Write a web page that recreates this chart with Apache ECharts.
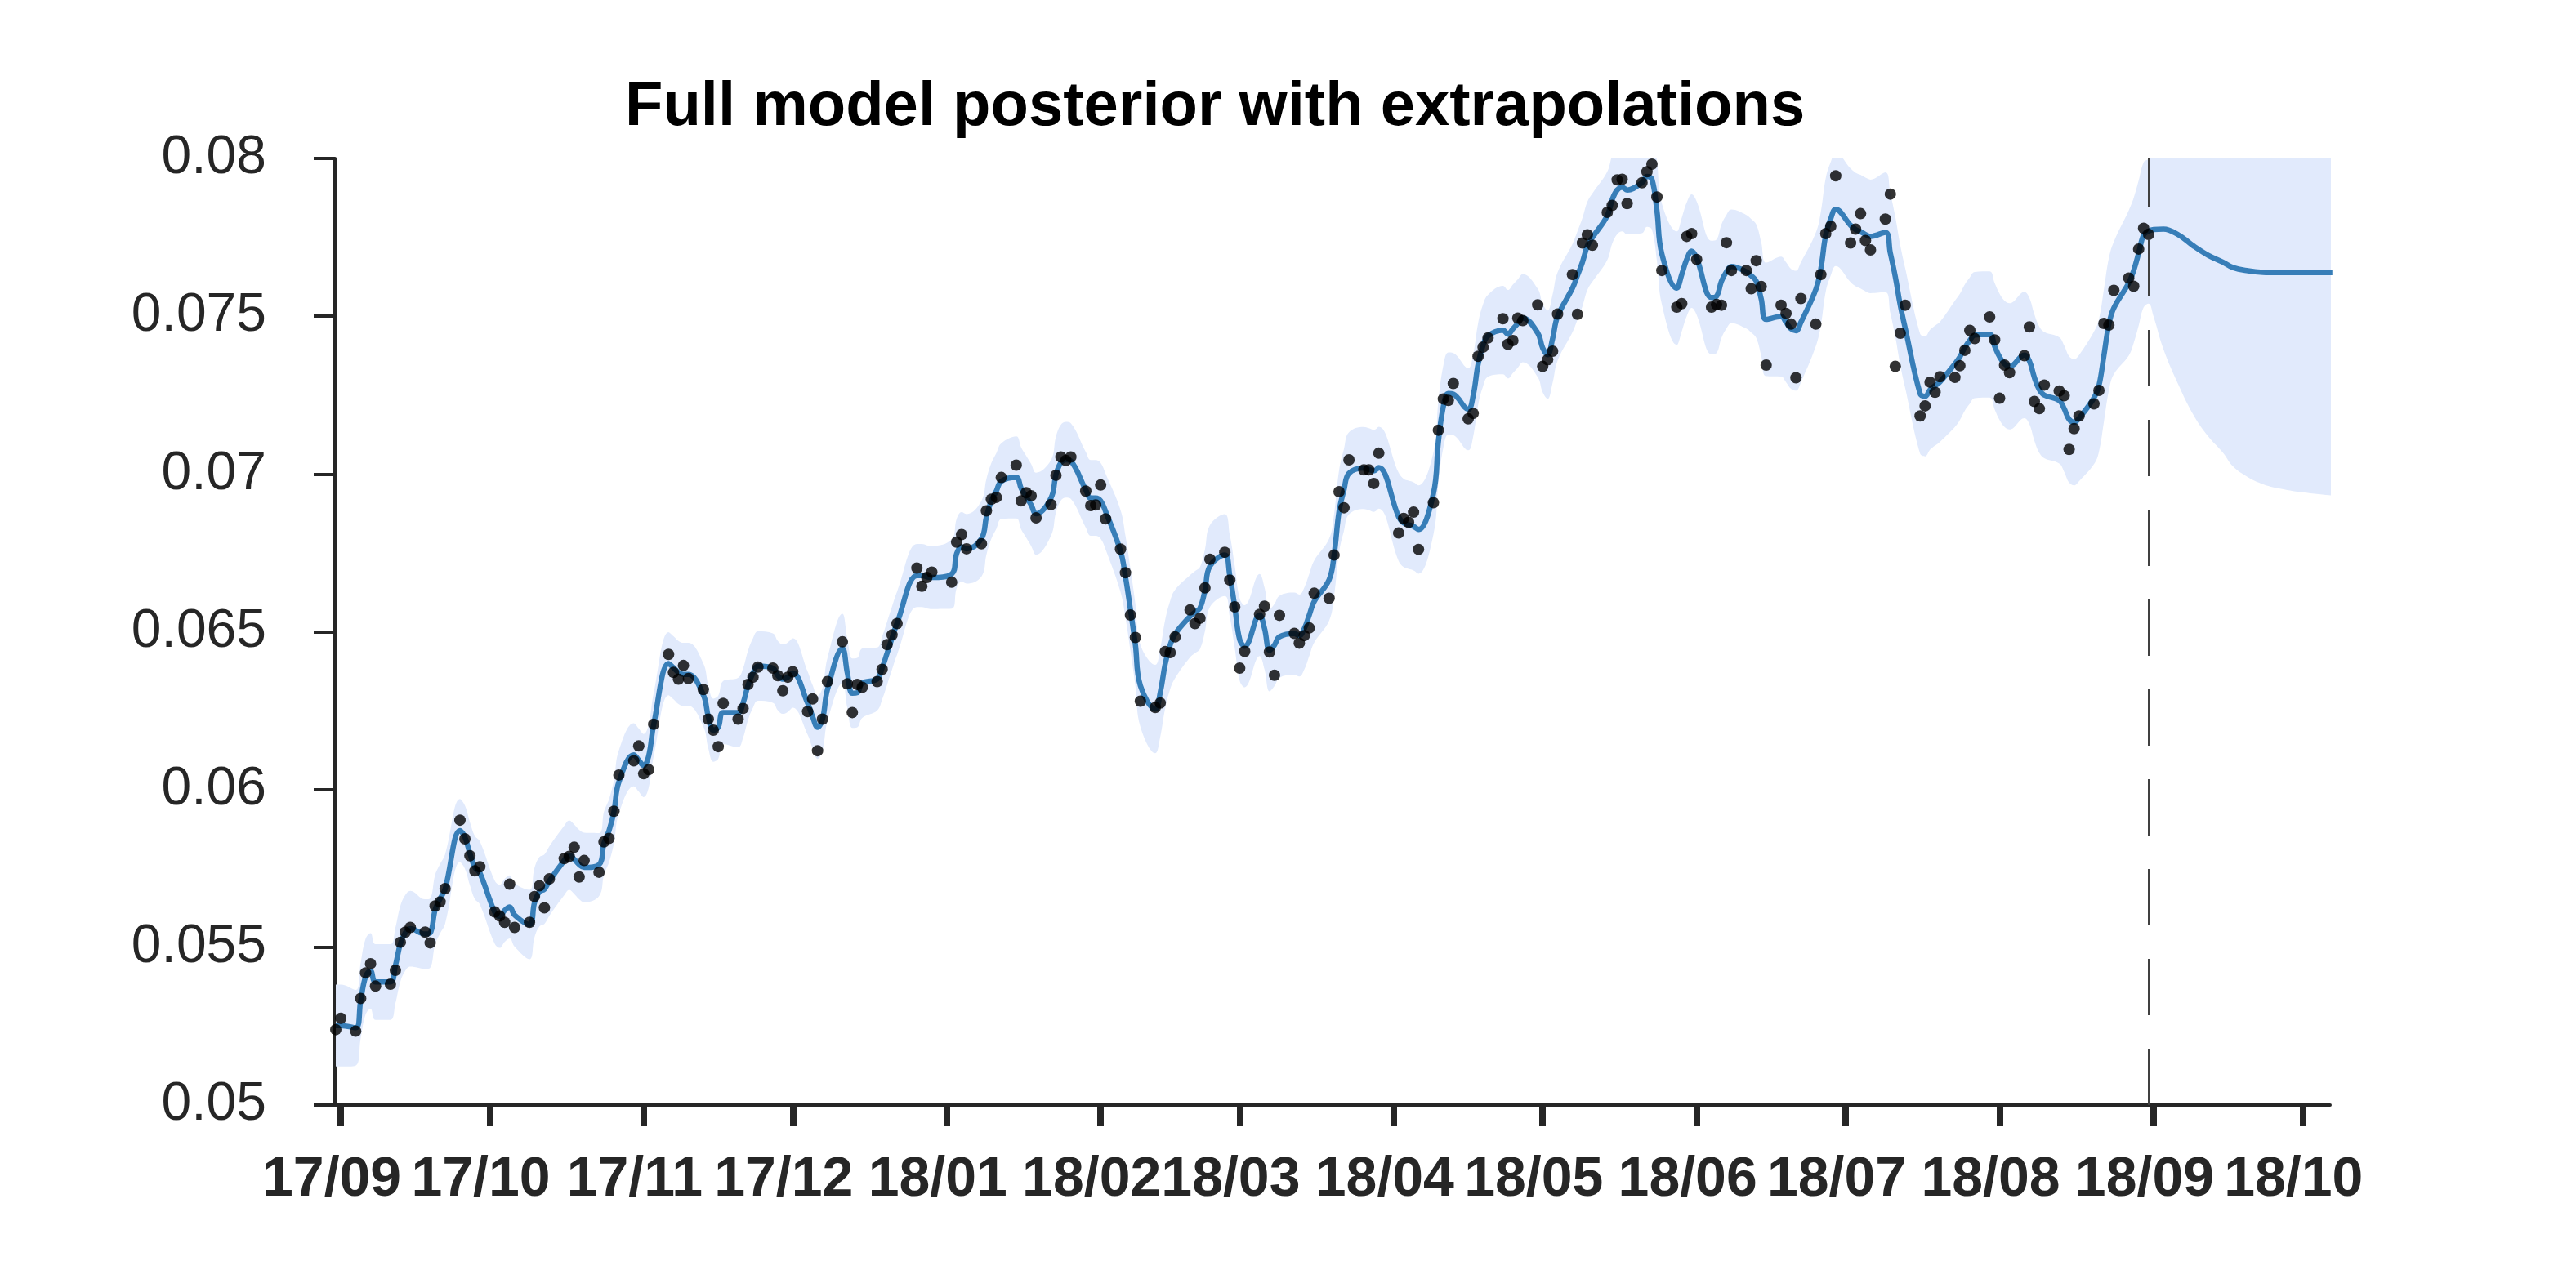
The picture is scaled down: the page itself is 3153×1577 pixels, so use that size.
<!DOCTYPE html>
<html>
<head>
<meta charset="utf-8">
<title>Full model posterior with extrapolations</title>
<script src="https://cdn.jsdelivr.net/npm/echarts@6/dist/echarts.min.js"></script>
<style>
  html, body { margin: 0; padding: 0; background: #fff; }
  #chart { width: 3153px; height: 1577px; }
</style>
</head>
<body>
<div id="chart"></div>
<script>
// weekly rows, Monday..Friday, starting with the week of 2017-08-28; null = no observation
const firstMonday = [2017, 7, 28];

const observed = [
  [null, null, null, 0.05239, 0.05275],
  [0.05234, 0.05338, 0.05419, 0.05448, 0.05377],
  [0.05383, 0.05427, 0.05516, 0.05548, 0.05563],
  [0.05548, 0.05514, 0.05631, 0.05644, 0.05686],
  [0.05903, 0.05844, 0.05790, 0.05742, 0.05755],
  [0.05612, 0.05599, 0.05579, 0.05700, 0.05563],
  [0.05579, 0.05661, 0.05695, 0.05625, 0.05717],
  [0.05781, 0.05788, 0.05817, 0.05723, 0.05775],
  [0.05738, 0.05834, 0.05845, 0.05931, 0.06046],
  [0.06091, 0.06138, 0.06050, 0.06063, 0.06207],
  [0.06428, 0.06371, 0.06350, 0.06393, 0.06352],
  [0.06317, 0.06223, 0.06188, 0.06136, 0.06273],
  [0.06223, 0.06257, 0.06333, 0.06356, 0.06388],
  [0.06385, 0.06361, 0.06313, 0.06356, 0.06373],
  [0.06247, 0.06287, 0.06123, 0.06223, 0.06342],
  [0.06468, 0.06335, 0.06244, 0.06333, 0.06324],
  [0.06342, 0.06381, 0.06459, 0.06490, 0.06526],
  [null, 0.06702, 0.06644, 0.06672, 0.06689],
  [null, 0.06657, 0.06784, 0.06808, 0.06763],
  [0.06779, 0.06883, 0.06920, 0.06926, 0.06989],
  [0.07028, 0.06915, 0.06941, 0.06931, 0.06861],
  [0.06903, 0.06996, 0.07054, 0.07043, 0.07054],
  [0.06946, 0.06900, 0.06902, 0.06965, 0.06858],
  [0.06762, 0.06687, 0.06553, 0.06482, 0.06280],
  [0.06260, 0.06274, 0.06437, 0.06434, 0.06484],
  [0.06569, 0.06526, 0.06543, 0.06639, 0.06730],
  [0.06752, 0.06664, 0.06579, 0.06385, 0.06438],
  [0.06555, 0.06581, 0.06436, 0.06362, 0.06552],
  [0.06495, 0.06464, 0.06488, 0.06512, 0.06622],
  [0.06606, 0.06743, 0.06944, 0.06893, 0.07045],
  [0.07013, 0.07013, 0.06970, 0.07066, null],
  [0.06813, 0.06859, 0.06847, 0.06879, 0.06761],
  [0.06909, 0.07139, 0.07238, 0.07233, 0.07287],
  [0.07175, 0.07192, 0.07373, 0.07402, 0.07431],
  [0.07492, 0.07411, 0.07423, 0.07494, 0.07486],
  [0.07536, 0.07341, 0.07362, 0.07389, 0.07507],
  [0.07632, 0.07506, 0.07732, 0.07758, 0.07725],
  [0.07829, 0.07851, 0.07932, 0.07934, 0.07857],
  [0.07923, 0.07958, 0.07982, 0.07878, 0.07645],
  [0.07529, 0.07540, 0.07753, 0.07762, 0.07680],
  [0.07529, 0.07537, 0.07535, 0.07733, 0.07645],
  [0.07645, 0.07587, 0.07676, 0.07594, 0.07345],
  [0.07535, 0.07509, 0.07475, 0.07305, 0.07556],
  [0.07475, 0.07632, 0.07762, 0.07785, 0.07945],
  [0.07732, 0.07776, 0.07825, 0.07740, 0.07710],
  [0.07808, 0.07887, 0.07341, 0.07446, 0.07535],
  [0.07184, 0.07216, 0.07291, 0.07259, 0.07308],
  [0.07306, 0.07343, 0.07392, 0.07455, 0.07429],
  [0.07498, 0.07425, 0.07240, 0.07345, 0.07321],
  [0.07375, 0.07466, 0.07230, 0.07207, 0.07282],
  [0.07263, 0.07248, 0.07078, 0.07144, 0.07184],
  [0.07222, 0.07265, 0.07477, 0.07472, 0.07582],
  [0.07621, 0.07595, 0.07713, 0.07779, 0.07759]
];

// posterior mean on the same days
const posteriorMean = [
  [null, null, null, 0.05252, 0.05252],
  [0.05245, 0.05330, 0.05407, 0.05425, 0.05390],
  [0.05390, 0.05442, 0.05511, 0.05546, 0.05559],
  [0.05542, 0.05545, 0.05619, 0.05654, 0.05684],
  [0.05870, 0.05849, 0.05797, 0.05753, 0.05736],
  [0.05611, 0.05598, 0.05617, 0.05628, 0.05602],
  [0.05572, 0.05641, 0.05676, 0.05684, 0.05710],
  [0.05775, 0.05792, 0.05779, 0.05762, 0.05753],
  [0.05762, 0.05830, 0.05869, 0.05929, 0.06024],
  [0.06110, 0.06093, 0.06076, 0.06106, 0.06205],
  [0.06399, 0.06386, 0.06371, 0.06365, 0.06365],
  [0.06300, 0.06231, 0.06188, 0.06197, 0.06244],
  [0.06244, 0.06274, 0.06330, 0.06369, 0.06391],
  [0.06385, 0.06361, 0.06350, 0.06356, 0.06369],
  [0.06274, 0.06231, 0.06197, 0.06223, 0.06317],
  [0.06447, 0.06369, 0.06305, 0.06307, 0.06337],
  [0.06350, 0.06385, 0.06432, 0.06480, 0.06527],
  [null, 0.06678, 0.06678, 0.06674, 0.06672],
  [null, 0.06683, 0.06747, 0.06769, 0.06763],
  [0.06795, 0.06864, 0.06915, 0.06946, 0.06977],
  [0.06989, 0.06954, 0.06928, 0.06902, 0.06874],
  [0.06924, 0.06998, 0.07036, 0.07045, 0.07041],
  [0.06950, 0.06924, 0.06924, 0.06915, 0.06881],
  [0.06756, 0.06674, 0.06570, 0.06458, 0.06329],
  [0.06255, 0.06307, 0.06398, 0.06458, 0.06493],
  [0.06549, 0.06562, 0.06575, 0.06631, 0.06708],
  [0.06743, 0.06678, 0.06579, 0.06475, 0.06454],
  [0.06553, 0.06510, 0.06441, 0.06458, 0.06484],
  [0.06494, 0.06488, 0.06510, 0.06553, 0.06596],
  [0.06665, 0.06743, 0.06881, 0.06950, 0.07002],
  [0.07019, 0.07015, 0.07010, 0.07020, null],
  [0.06864, 0.06845, 0.06839, 0.06834, 0.06824],
  [0.06938, 0.07102, 0.07214, 0.07255, 0.07253],
  [0.07205, 0.07248, 0.07348, 0.07408, 0.07438],
  [0.07456, 0.07443, 0.07460, 0.07477, 0.07494],
  [0.07447, 0.07399, 0.07378, 0.07429, 0.07499],
  [0.07589, 0.07629, 0.07671, 0.07723, 0.07749],
  [0.07818, 0.07870, 0.07900, 0.07909, 0.07900],
  [0.07923, 0.07943, 0.07934, 0.07835, 0.07697],
  [0.07589, 0.07632, 0.07680, 0.07706, 0.07684],
  [0.07559, 0.07563, 0.07611, 0.07641, 0.07658],
  [0.07641, 0.07628, 0.07611, 0.07555, 0.07490],
  [0.07499, 0.07481, 0.07460, 0.07454, 0.07481],
  [0.07585, 0.07650, 0.07758, 0.07809, 0.07839],
  [0.07788, 0.07775, 0.07768, 0.07759, 0.07753],
  [0.07766, 0.07700, 0.07625, 0.07535, 0.07462],
  [0.07254, 0.07246, 0.07267, 0.07280, 0.07292],
  [0.07349, 0.07371, 0.07401, 0.07423, 0.07440],
  [0.07442, 0.07405, 0.07371, 0.07349, 0.07341],
  [0.07377, 0.07358, 0.07306, 0.07267, 0.07250],
  [0.07233, 0.07207, 0.07173, 0.07164, 0.07177],
  [0.07241, 0.07280, 0.07375, 0.07474, 0.07526],
  [0.07605, 0.07645, 0.07700, 0.07758, 0.07770]
];

// half width of the shaded band, one value per week
const posteriorSpread = [
  0.0013, 0.0012, 0.0012, 0.0011, 0.0010, 0.0010, 0.0011, 0.0011, 0.0010, 0.0010,
  0.0010, 0.0010, 0.0011, 0.0011, 0.0010, 0.0011, 0.0010, 0.0010, 0.0011, 0.0012,
  0.0013, 0.0012, 0.0012, 0.0013, 0.0014, 0.0013, 0.0013, 0.0013, 0.0013, 0.0013,
  0.0013, 0.0014, 0.0013, 0.0013, 0.0014, 0.0014, 0.0014, 0.0014, 0.0016, 0.0018,
  0.0018, 0.0018, 0.0019, 0.0018, 0.0018, 0.0019, 0.0019, 0.0020, 0.0020, 0.0020,
  0.0020, 0.0021, 0.0023
];

// extrapolation beyond the last observation
const forecastDates = ['2018-09-01', '2018-09-03', '2018-09-06', '2018-09-09', '2018-09-12', '2018-09-15',
  '2018-09-17', '2018-09-20', '2018-09-23', '2018-09-26', '2018-10-01', '2018-10-07'];
const forecastMean = [0.07775, 0.07776, 0.07758, 0.07723, 0.07693, 0.07671,
  0.07654, 0.07644, 0.07639, 0.07638, 0.07638, 0.07638];
const forecastSpread = [0.00276, 0.00381, 0.00475, 0.00535, 0.00574, 0.00604,
  0.00630, 0.00654, 0.00671, 0.00683, 0.00696, 0.00706];

const xStart = new Date(2017, 7, 30, 20).getTime();
const xEnd = new Date(2018, 9, 6, 13).getTime();
const DAY = 86400000;

function parseDay(s) {
  const p = s.split('-').map(Number);
  return new Date(p[0], p[1] - 1, p[2]).getTime();
}

const obsPoints = [], meanPoints = [], bandLow = [], bandWidth = [];
observed.forEach((week, w) => {
  week.forEach((v, d) => {
    const t = new Date(firstMonday[0], firstMonday[1], firstMonday[2] + w * 7 + d).getTime();
    if (v != null) obsPoints.push([t, v]);
    const m = posteriorMean[w][d];
    if (m != null) {
      meanPoints.push([t, m]);
      bandLow.push([t, m - posteriorSpread[w]]);
      bandWidth.push([t, 2 * posteriorSpread[w]]);
    }
  });
});
const lastObs = obsPoints[obsPoints.length - 1][0];
forecastDates.forEach((s, i) => {
  const t = parseDay(s);
  meanPoints.push([t, forecastMean[i]]);
  bandLow.push([t, forecastMean[i] - forecastSpread[i]]);
  bandWidth.push([t, 2 * forecastSpread[i]]);
});

const axisColor = '#262626';
const font = 'Liberation Sans, Arial, sans-serif';

const chart = echarts.init(document.getElementById('chart'));
chart.setOption({
  animation: false,
  backgroundColor: '#fff',
  title: {
    text: 'Full model posterior with extrapolations',
    left: 760,
    top: 89,
    textStyle: { fontFamily: font, fontSize: 76, fontWeight: 'bold', color: '#000' }
  },
  grid: { left: 410, right: 301, top: 194, bottom: 224 },
  xAxis: {
    type: 'time',
    min: xStart,
    max: xEnd,
    splitNumber: 14,
    minInterval: 28 * DAY,
    maxInterval: 31 * DAY,
    axisLine: { lineStyle: { color: axisColor, width: 4 } },
    axisTick: { length: 26, lineStyle: { color: axisColor, width: 8 } },
    axisLabel: {
      formatter: (v) => {
        const d = new Date(v);
        return String(d.getFullYear() % 100).padStart(2, '0') + '/' + String(d.getMonth() + 1).padStart(2, '0');
      },
      fontFamily: font, fontSize: 68, fontWeight: 'bold', color: axisColor, margin: 58,
      padding: [0, 22, 0, 0]
    },
    splitLine: { show: false }
  },
  yAxis: {
    type: 'value',
    min: 0.05,
    max: 0.08,
    interval: 0.005,
    axisLine: { show: true, lineStyle: { color: axisColor, width: 4 } },
    axisTick: { show: true, length: 26, lineStyle: { color: axisColor, width: 4 } },
    axisLabel: {
      formatter: (v) => String(+v.toFixed(3)),
      fontFamily: font, fontSize: 66, color: axisColor, margin: 84
    },
    splitLine: { show: false }
  },
  series: [
    {
      name: 'band-low', type: 'line', data: bandLow, stack: 'band', smooth: 0.4,
      symbol: 'none', lineStyle: { opacity: 0 }, z: 1, silent: true
    },
    {
      name: 'band', type: 'line', data: bandWidth, stack: 'band', smooth: 0.4,
      symbol: 'none', lineStyle: { opacity: 0 }, areaStyle: { color: '#e1eafc', opacity: 1 }, z: 1, silent: true
    },
    {
      name: 'posterior mean', type: 'line', data: meanPoints, smooth: 0.4,
      symbol: 'none', lineStyle: { color: '#377eb8', width: 6.5 }, z: 2
    },
    {
      name: 'observations', type: 'scatter', data: obsPoints, symbolSize: 14,
      itemStyle: { color: '#000' }, z: 3,
      markLine: {
        silent: true, symbol: ['none', 'none'], label: { show: false },
        lineStyle: { color: '#404040', width: 3, type: [69, 41] },
        data: [{ xAxis: lastObs }]
      }
    }
  ]
});
</script>
</body>
</html>
